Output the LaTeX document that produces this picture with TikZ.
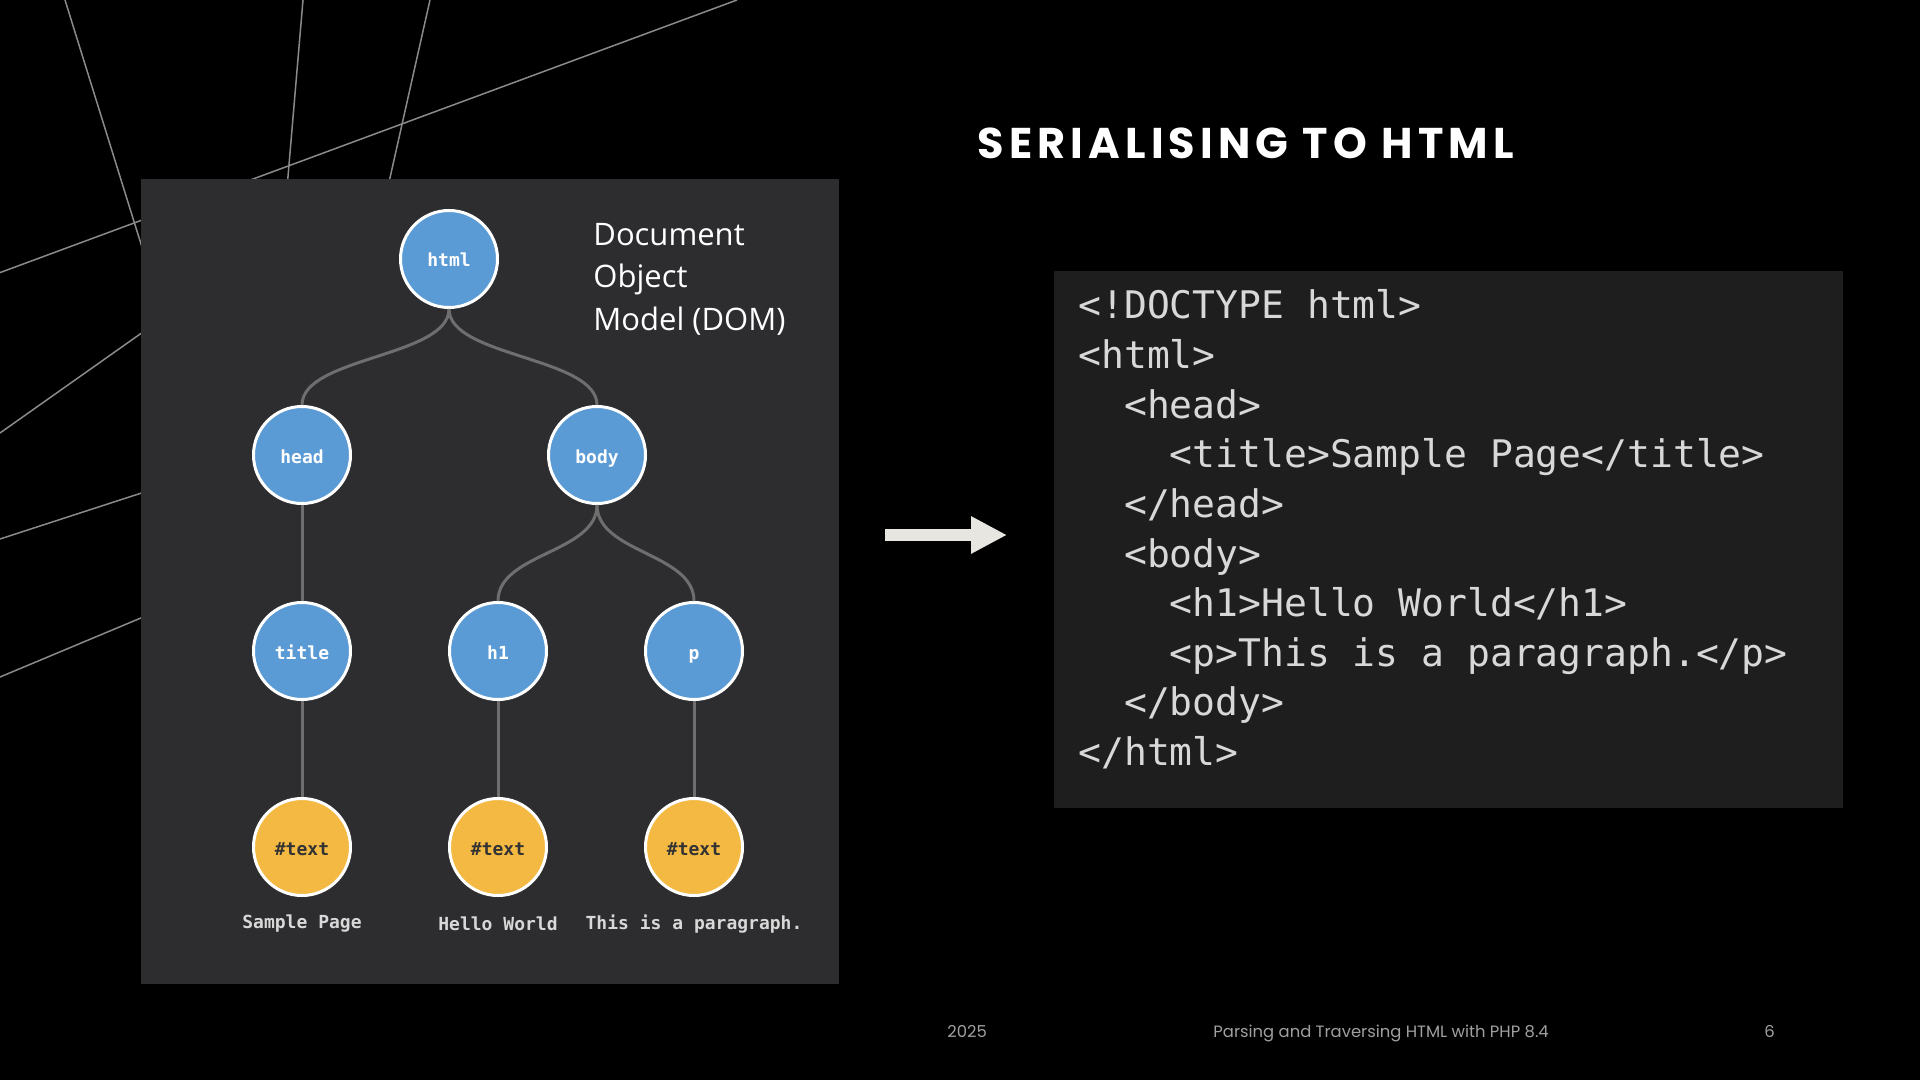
\documentclass[tikz,border=0pt]{standalone}
\usepackage{fontspec}
\setmainfont{Open Sans}
\newfontfamily\titlefont[LetterSpace=12]{Poppins}
\newfontfamily\footfont{Poppins}
\newfontfamily\codefont{DejaVu Sans Mono}
\usetikzlibrary{arrows.meta,positioning}

\definecolor{panelgray}{HTML}{2D2D30}
\definecolor{codebg}{HTML}{1E1E1E}
\definecolor{codetext}{HTML}{D8D8D8}
\definecolor{nodeblue}{HTML}{5B9BD5}
\definecolor{nodeyellow}{HTML}{F4B942}
\definecolor{textdark}{HTML}{333333}
\definecolor{edgegray}{HTML}{6E6E6E}
\definecolor{decoline}{HTML}{8A8A8A}
\definecolor{arrowwhite}{HTML}{E8E6E1}
\definecolor{footgray}{HTML}{A0A0A0}

\begin{document}
\begin{tikzpicture}[x=0.5pt, y=-0.5pt,
    elem/.style={circle, draw=white, line width=1.5pt, fill=nodeblue,
      minimum size=48.5pt, inner sep=0pt, text=white,
      text height=8.5pt, text depth=0.5pt,
      font=\codefont\bfseries\fontsize{9}{10}\selectfont},
    textelem/.style={elem, fill=nodeyellow, text=textdark},
    leaflabel/.style={inner sep=0pt, text=codetext,
      font=\codefont\bfseries\fontsize{9}{10}\selectfont},
    edge/.style={draw=edgegray, line width=1.5pt},
    codeline/.style={anchor=base west, inner sep=0pt, text=codetext,
      font=\codefont\fontsize{19}{24}\selectfont},
    deco/.style={draw=decoline, line width=0.75pt},
    foot/.style={anchor=base west, inner sep=0pt, text=footgray,
      font=\footfont\fontsize{8.2}{10}\selectfont},
  ]
  % Slide background
  \fill[black] (0,0) rectangle (1920,1080);
  \useasboundingbox (0,0) rectangle (1920,1080);

  % Decorative lines
  \begin{scope}
    \clip (0,0) rectangle (1920,1080);
    \draw[deco] (65,0) -- (160,305);
    \draw[deco] (303,0) -- (286,200);
    \draw[deco] (430,0) -- (385,200);
    \draw[deco] (737,0) -- (-20,280);
    \draw[deco] (0,433) -- (160,320);
    \draw[deco] (0,539) -- (160,487);
    \draw[deco] (0,677) -- (160,610);
  \end{scope}

  % Panels
  \fill[panelgray] (141,179) rectangle (839,984);
  \fill[codebg] (1054,271) rectangle (1843,808);

  % Title
  \node[anchor=base west, inner sep=0pt, text=white,
    font=\titlefont\bfseries\fontsize{21.5}{26}\selectfont]
    (heading) at (977,159) {SERIALISING TO HTML};

  % DOM tree
  \node[elem] (html) at (449,259) {html};
  \foreach \name/\x in {head/302, body/597}
    \node[elem] (\name) at (\x,455) {\name};
  \foreach \name/\x in {title/302, h1/498, p/694}
    \node[elem] (\name) at (\x,651) {\name};
  \foreach \parent/\x/\txt [count=\i] in
      {title/302/Sample Page, h1/498/Hello World, p/694/This is a paragraph.} {
    \node[textelem] (text\i) at (\x,847) {\#text};
    \node[leaflabel] (leaf\i) at (\x,924) {\txt};
    \draw[edge] (\parent) -- (text\i);
  }
  \draw[edge] (head) -- (title);
  \foreach \parent/\child in {html/head, html/body, body/h1, body/p}
    \draw[edge] (\parent.south) .. controls +(0,48) and +(0,-48) .. (\child.north);

  \node[anchor=base west, inner sep=0pt, text=white, align=left,
    font=\fontsize{15.5}{21.5}\selectfont]
    (domlabel) at (593,331) {Document\\Object\\Model (DOM)};

  % Arrow
  \coordinate (arrowtail) at (885,535);
  \coordinate (arrowtip) at (1007,535);
  \draw[arrowwhite, line width=6pt, -{Triangle[length=18pt, width=17.5pt]}]
    (arrowtail) -- (arrowtip);

  % Serialised code
  \foreach \codeln [count=\i from 0] in {{<!DOCTYPE html>}, {<html>},
      {\phantom{xx}<head>}, {\phantom{xxxx}<title>Sample Page</title>},
      {\phantom{xx}</head>}, {\phantom{xx}<body>},
      {\phantom{xxxx}<h1>Hello World</h1>},
      {\phantom{xxxx}<p>This is a paragraph.</p>},
      {\phantom{xx}</body>}, {</html>}}
    \node[codeline] (code\i) at (1078, 319+49.6*\i) {\codeln};

  % Footer
  \node[foot] (year) at (947,1037) {2025};
  \node[foot] (talk) at (1213,1037) {Parsing and Traversing HTML with PHP 8.4};
  \node[foot] (pagenum) at (1764,1037) {6};
\end{tikzpicture}
\end{document}
